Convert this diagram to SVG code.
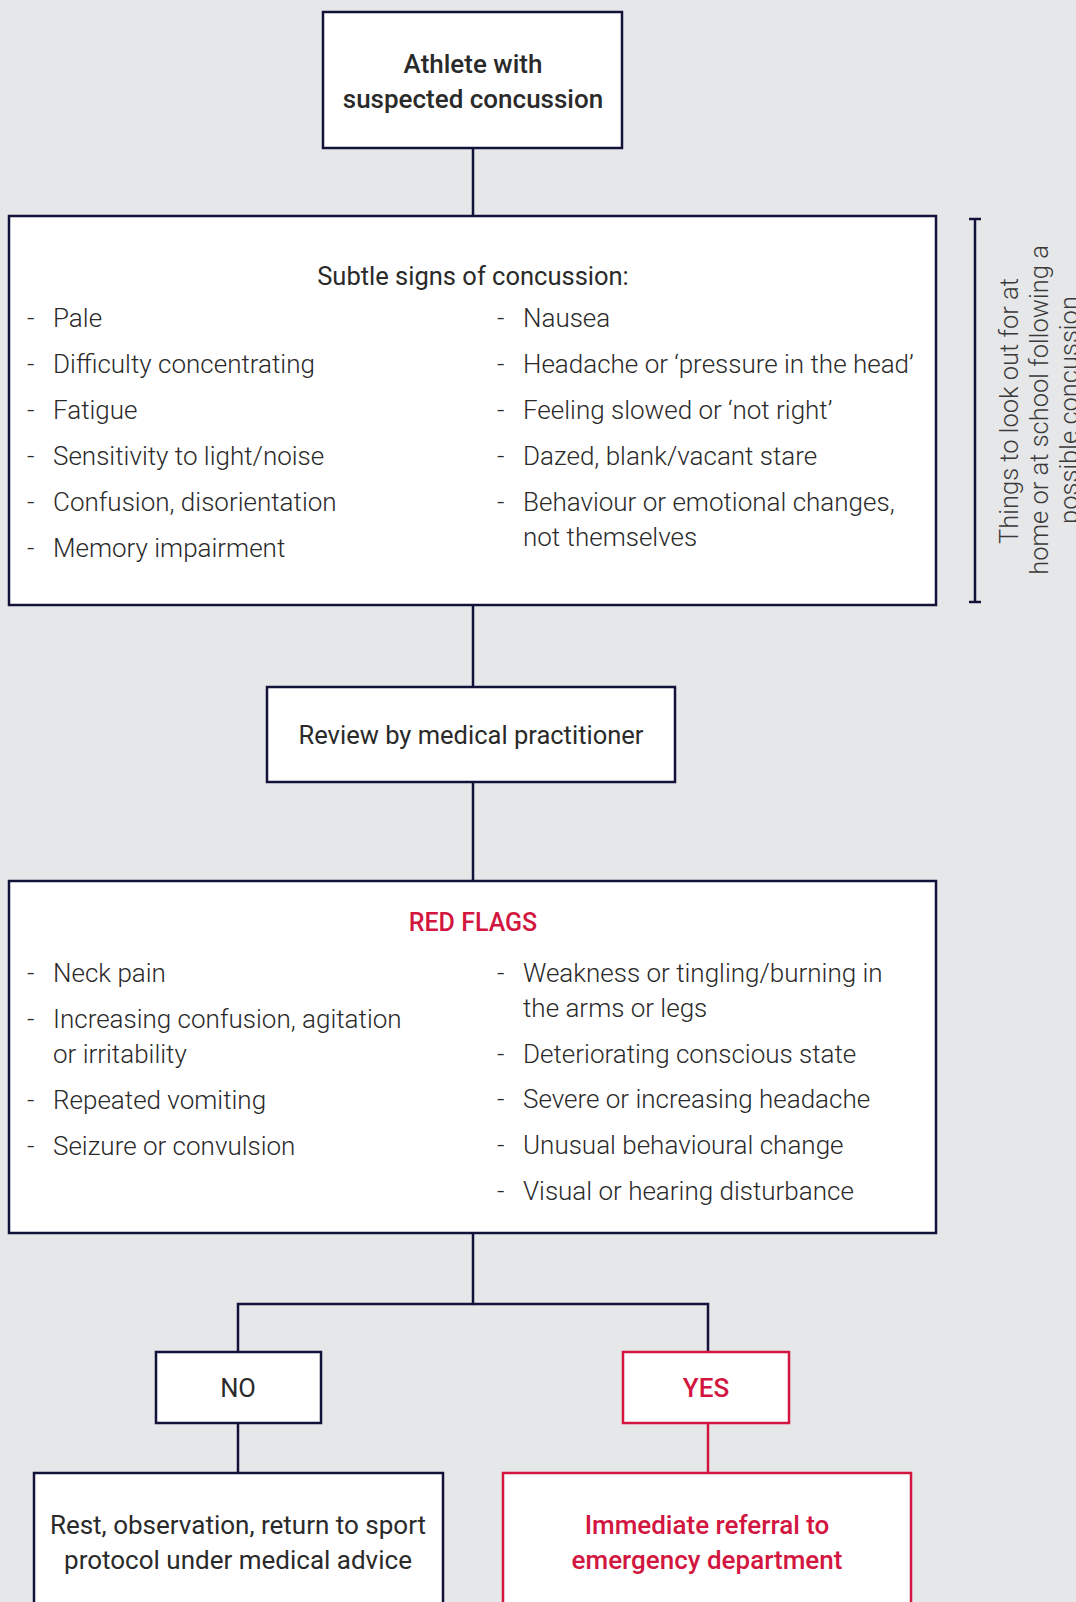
<svg xmlns="http://www.w3.org/2000/svg" width="1076" height="1602" viewBox="0 0 1076 1602">
<style>
.bx{fill:#fff;stroke:#11133a;stroke-width:2.5}
.rbx{fill:#fff;stroke:#d2163f;stroke-width:2.5}
.ln{fill:none;stroke:#11133a;stroke-width:2.5}
.rln{fill:none;stroke:#d2163f;stroke-width:2.5}
text{font-family:Roboto,"Liberation Sans",sans-serif;fill:#2a2a2a}
.it{font-size:26px;font-weight:300}
.hd{font-size:25.5px;font-weight:400;text-anchor:middle}
.md{font-size:26px;font-weight:500;text-anchor:middle}
.red{fill:#d2163f}
.side{font-size:25.5px;font-weight:300;fill:#3a3a3a;text-anchor:middle}
</style>
<rect width="1076" height="1602" fill="#e6e7e9"/>
<g id="connectors">
<line class="ln" x1="473" y1="148" x2="473" y2="216"/>
<line class="ln" x1="473" y1="605" x2="473" y2="687"/>
<line class="ln" x1="473" y1="782" x2="473" y2="881"/>
<polyline class="ln" points="473,1233 473,1304 238,1304 238,1352"/>
<polyline class="ln" points="473,1304 708,1304 708,1352"/>
<line class="ln" x1="238" y1="1423" x2="238" y2="1473"/>
<line class="rln" x1="708" y1="1423" x2="708" y2="1473"/>
</g>
<g id="start">
<rect class="bx" x="323" y="12" width="299" height="136"/>
<text class="md" x="473" y="73">Athlete with</text>
<text class="md" x="473" y="108">suspected concussion</text>
</g>
<g id="subtle">
<rect class="bx" x="9" y="216" width="927" height="389"/>
<text class="hd" x="473" y="285">Subtle signs of concussion:</text>
<g class="it">
<text x="27" y="327">-</text><text x="53" y="327">Pale</text>
<text x="27" y="373">-</text><text x="53" y="373">Difficulty concentrating</text>
<text x="27" y="419">-</text><text x="53" y="419">Fatigue</text>
<text x="27" y="465">-</text><text x="53" y="465">Sensitivity to light/noise</text>
<text x="27" y="511">-</text><text x="53" y="511">Confusion, disorientation</text>
<text x="27" y="557">-</text><text x="53" y="557">Memory impairment</text>
<text x="497" y="327">-</text><text x="523" y="327">Nausea</text>
<text x="497" y="373">-</text><text x="523" y="373">Headache or ‘pressure in the head’</text>
<text x="497" y="419">-</text><text x="523" y="419">Feeling slowed or ‘not right’</text>
<text x="497" y="465">-</text><text x="523" y="465">Dazed, blank/vacant stare</text>
<text x="497" y="511">-</text><text x="523" y="511">Behaviour or emotional changes,</text>
<text x="523" y="546">not themselves</text>
</g>
</g>
<g id="bracket">
<line class="ln" x1="975" y1="219" x2="975" y2="602"/>
<line class="ln" x1="969" y1="219" x2="981" y2="219"/>
<line class="ln" x1="969" y1="602" x2="981" y2="602"/>
<text class="side" transform="translate(1018,411) rotate(-90)">Things to look out for at</text>
<text class="side" transform="translate(1048,410) rotate(-90)">home or at school following a</text>
<text class="side" transform="translate(1078,410) rotate(-90)">possible concussion</text>
</g>
<g id="review">
<rect class="bx" x="267" y="687" width="408" height="95"/>
<text class="hd" x="471" y="744">Review by medical practitioner</text>
</g>
<g id="redflags">
<rect class="bx" x="9" y="881" width="927" height="352"/>
<text class="md red" x="473" y="931" style="font-size:25px">RED FLAGS</text>
<g class="it">
<text x="27" y="982">-</text><text x="53" y="982">Neck pain</text>
<text x="27" y="1028">-</text><text x="53" y="1028">Increasing confusion, agitation</text>
<text x="53" y="1063">or irritability</text>
<text x="27" y="1109">-</text><text x="53" y="1109">Repeated vomiting</text>
<text x="27" y="1155">-</text><text x="53" y="1155">Seizure or convulsion</text>
<text x="497" y="982">-</text><text x="523" y="982">Weakness or tingling/burning in</text>
<text x="523" y="1017">the arms or legs</text>
<text x="497" y="1063">-</text><text x="523" y="1063">Deteriorating conscious state</text>
<text x="497" y="1108">-</text><text x="523" y="1108">Severe or increasing headache</text>
<text x="497" y="1154">-</text><text x="523" y="1154">Unusual behavioural change</text>
<text x="497" y="1200">-</text><text x="523" y="1200">Visual or hearing disturbance</text>
</g>
</g>
<g id="no">
<rect class="bx" x="156" y="1352" width="165" height="71"/>
<text class="hd" x="238" y="1397">NO</text>
</g>
<g id="yes">
<rect class="rbx" x="623" y="1352" width="166" height="71"/>
<text class="md red" x="706" y="1397">YES</text>
</g>
<g id="rest">
<rect class="bx" x="34" y="1473" width="409" height="140"/>
<text class="hd" x="238" y="1534" style="font-size:26px">Rest, observation, return to sport</text>
<text class="hd" x="238" y="1569" style="font-size:26px">protocol under medical advice</text>
</g>
<g id="referral">
<rect class="rbx" x="503" y="1473" width="408" height="140"/>
<text class="md red" x="707" y="1534">Immediate referral to</text>
<text class="md red" x="707" y="1569">emergency department</text>
</g>
</svg>
